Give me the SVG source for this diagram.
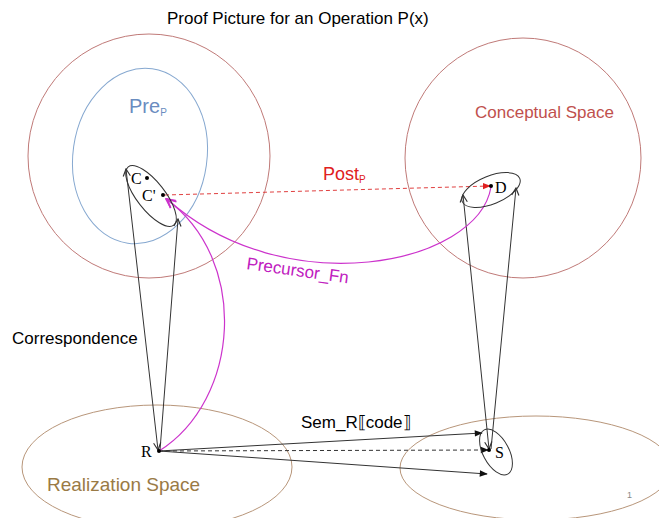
<svg xmlns="http://www.w3.org/2000/svg" width="659" height="518" viewBox="0 0 659 518">
<style>
.sans{font-family:"Liberation Sans",Arial,sans-serif}
.serif{font-family:"Liberation Serif","Times New Roman",serif;font-size:16px;fill:#000}
.region{fill:none;stroke-width:1}
.ln{fill:none;stroke:#333;stroke-width:1}
.mag{fill:none;stroke:#cc33cc;stroke-width:1.2}
</style>
<defs>
<marker id="open" viewBox="0 0 10 10" refX="9" refY="5" markerWidth="9" markerHeight="9" orient="auto-start-reverse" markerUnits="userSpaceOnUse">
<path d="M1,1 L9,5 L1,9" fill="none" stroke="#333" stroke-width="1.3"/>
</marker>
<marker id="fill" viewBox="0 0 10 10" refX="9" refY="5" markerWidth="9" markerHeight="8" orient="auto" markerUnits="userSpaceOnUse">
<path d="M0,1 L10,5 L0,9 z" fill="#111"/>
</marker>
<marker id="magopen" viewBox="0 0 10 10" refX="9" refY="5" markerWidth="11" markerHeight="11" orient="auto" markerUnits="userSpaceOnUse">
<path d="M1,1 L9,5 L1,9" fill="none" stroke="#cc33cc" stroke-width="1.5"/>
</marker>
<marker id="red" viewBox="0 0 10 10" refX="9" refY="5" markerWidth="8" markerHeight="8" orient="auto" markerUnits="userSpaceOnUse">
<path d="M0,1 L10,5 L0,9 z" fill="#e02020"/>
</marker>
</defs>
<rect width="659" height="518" fill="#fff"/>
<text class="sans" x="167" y="24" font-size="17" fill="#000">Proof Picture for an Operation P(x)</text>

<g id="pre-context">
<ellipse class="region" cx="149" cy="156" rx="121" ry="122" stroke="#c07a78"/>
</g>
<g id="pre">
<ellipse class="region" cx="140" cy="156" rx="67" ry="88" stroke="#86a8d0" transform="rotate(8 140 156)"/>
<text class="sans" x="129" y="113" font-size="20" fill="#6a8cc0">Pre<tspan font-size="10" dy="3">P</tspan></text>
</g>
<g id="conceptual-space">
<ellipse class="region" cx="523" cy="158" rx="118" ry="120" stroke="#c07a78"/>
<text class="sans" x="475" y="118" font-size="17" fill="#c0504d">Conceptual Space</text>
</g>
<g id="realization-space">
<ellipse class="region" cx="157" cy="467" rx="135" ry="62" stroke="#b8967a"/>
<text class="sans" x="47" y="491" font-size="19" fill="#9a7a45">Realization Space</text>
</g>
<g id="realization-space-right">
<ellipse class="region" cx="536" cy="468" rx="136" ry="52" stroke="#b8967a"/>
</g>
<text class="sans" x="627" y="498" font-size="9" fill="#888">1</text>

<g id="connectors">
<line class="ln" x1="158" y1="450" x2="126" y2="169" marker-start="url(#open)" marker-end="url(#open)"/>
<line class="ln" x1="160" y1="450" x2="178" y2="219" marker-end="url(#open)"/>
<line class="ln" x1="489" y1="449" x2="463" y2="195" marker-start="url(#open)" marker-end="url(#open)"/>
<line class="ln" x1="491" y1="449" x2="516" y2="188" marker-end="url(#open)"/>
<line class="ln" x1="159" y1="451" x2="482" y2="433" marker-end="url(#fill)"/>
<line class="ln" x1="159" y1="451" x2="487" y2="474" marker-end="url(#fill)"/>
<line class="ln" x1="159" y1="451" x2="488" y2="450" stroke-dasharray="4,3" marker-end="url(#fill)"/>
<line x1="165" y1="195" x2="490" y2="186" stroke="#e04040" stroke-width="1" stroke-dasharray="4,3" marker-end="url(#red)"/>
<path class="mag" d="M159,451 C240,400 250,260 166,199" marker-end="url(#magopen)"/>
<path class="mag" d="M491,187 C478,265 285,305 167,199" marker-end="url(#magopen)"/>
</g>

<g id="labels">
<text class="sans" x="323" y="180" font-size="18" fill="#e02020">Post<tspan font-size="10" dy="3">P</tspan></text>
<text class="sans" x="246" y="269" font-size="17" fill="#c020c0" transform="rotate(8 246 269)">Precursor_Fn</text>
<text class="sans" x="12" y="344" font-size="17" fill="#000">Correspondence</text>
<text class="sans" x="301" y="428" font-size="17" fill="#000">Sem_R⟦code⟧</text>
</g>

<g id="node-C">
<ellipse cx="151" cy="196" rx="37" ry="14" fill="none" stroke="#333" stroke-width="1" transform="rotate(52 151 196)"/>
<circle cx="147" cy="178" r="2" fill="#000"/>
<circle cx="163" cy="195" r="2" fill="#000"/>
<text class="serif" x="131" y="184">C</text>
<text class="serif" x="142" y="201">C'</text>
</g>
<g id="node-D">
<ellipse cx="491" cy="190" rx="31" ry="14" fill="none" stroke="#333" stroke-width="1" transform="rotate(-22 491 190)"/>
<circle cx="491" cy="186" r="2" fill="#000"/>
<text class="serif" x="495" y="193">D</text>
</g>
<g id="node-R">
<circle cx="159" cy="451" r="2" fill="#000"/>
<text class="serif" x="141" y="457">R</text>
</g>
<g id="node-S">
<ellipse cx="496" cy="452" rx="25" ry="13" fill="none" stroke="#333" stroke-width="1" transform="rotate(62 496 452)"/>
<circle cx="489" cy="450" r="2" fill="#000"/>
<text class="serif" x="495" y="458">S</text>
</g>
</svg>
